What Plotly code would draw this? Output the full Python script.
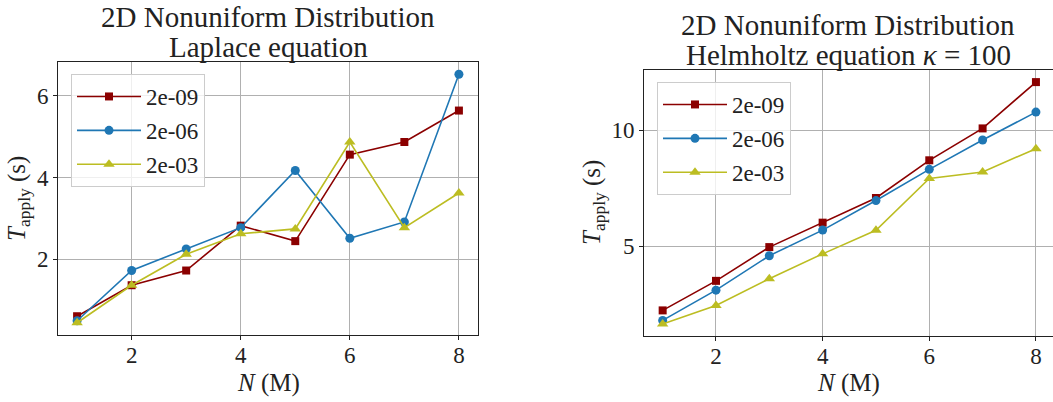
import plotly.graph_objects as go

# Problem sizes N (millions of points)
N = [1, 2, 3, 4, 5, 6, 7, 8]

# Tolerance labels shown in the legends
tolerances = ["2e-09", "2e-06", "2e-03"]

# Laplace equation: apply time (s) per tolerance
laplace_2e09 = [0.60, 1.36, 1.72, 2.82, 2.44, 4.56, 4.87, 5.64]
laplace_2e06 = [0.49, 1.72, 2.25, 2.77, 4.17, 2.51, 2.91, 6.53]
laplace_2e03 = [0.44, 1.36, 2.12, 2.62, 2.74, 4.87, 2.77, 3.62]

# Helmholtz equation (kappa = 100): apply time (s) per tolerance
helm_2e09 = [2.25, 3.52, 4.97, 6.02, 7.08, 8.70, 10.07, 12.06]
helm_2e06 = [1.82, 3.12, 4.60, 5.70, 6.97, 8.31, 9.57, 10.77]
helm_2e03 = [1.67, 2.46, 3.61, 4.68, 5.69, 7.92, 8.20, 9.20]

colors = ["#8b0000", "#1f77b4", "#bcbd22"]
symbols = ["square", "circle", "triangle-up"]
msizes = [8, 9, 10]

W, H = 1053, 402
FONT = "Liberation Serif"


def px_x(p):
    return p / W


def px_y(p):
    return 1 - p / H


fig = go.Figure()

panels = [
    ("x", "y", "legend", [laplace_2e09, laplace_2e06, laplace_2e03]),
    ("x2", "y2", "legend2", [helm_2e09, helm_2e06, helm_2e03]),
]
for pi, (xa, ya, leg, series) in enumerate(panels):
    for si, vals in enumerate(series):
        fig.add_trace(go.Scatter(
            x=N, y=vals, mode="lines+markers", name=tolerances[si],
            xaxis=xa, yaxis=ya, legend=leg,
            legendgroup=f"p{pi}s{si}",
            line=dict(color=colors[si], width=1.6),
            marker=dict(symbol=symbols[si], size=msizes[si], color=colors[si]),
        ))

axis_common = dict(
    showgrid=True, gridcolor="#b0b0b0", gridwidth=0.8,
    showline=True, linecolor="#222222", linewidth=1, mirror=True,
    ticks="outside", ticklen=4, tickcolor="#222222", tickwidth=1,
    tickfont=dict(family=FONT, size=23, color="#222222"),
    zeroline=False,
)

legend_common = dict(
    xanchor="left", yanchor="top",
    bgcolor="rgba(255,255,255,0.8)", bordercolor="#cccccc",
    borderwidth=1, tracegroupgap=1, itemwidth=64,
    font=dict(family=FONT, size=23, color="#222222"),
)

fig.update_layout(
    width=W, height=H,
    margin=dict(l=0, r=0, t=0, b=0),
    plot_bgcolor="white", paper_bgcolor="white",
    xaxis=dict(domain=[px_x(58), px_x(478)], range=[0.65, 8.35],
               tickvals=[2, 4, 6, 8], anchor="y", ticklabelstandoff=-5,
               **axis_common),
    yaxis=dict(domain=[px_y(335), px_y(62)], range=[0.14, 6.83],
               tickvals=[2, 4, 6], anchor="x", **axis_common),
    xaxis2=dict(domain=[px_x(644), 1.0], range=[0.65, 8.32],
                tickvals=[2, 4, 6, 8], anchor="y2", ticklabelstandoff=-5,
                **axis_common),
    yaxis2=dict(domain=[px_y(336), px_y(70)], range=[1.15, 12.58],
                tickvals=[5, 10], anchor="x2", **axis_common),
    legend=dict(x=px_x(71), y=px_y(74), **legend_common),
    legend2=dict(x=px_x(657), y=px_y(82), **legend_common),
    showlegend=True,
)

text_font = dict(family=FONT, size=29, color="#222222")
label_font = dict(family=FONT, size=25, color="#222222")


def note(text, x, y, font, angle=0):
    fig.add_annotation(text=text, x=px_x(x), y=px_y(y), xref="paper", yref="paper",
                       xanchor="center", yanchor="middle", showarrow=False,
                       font=font, textangle=angle)


# Panel titles
note("2D Nonuniform Distribution", 268, 17, text_font)
note("Laplace equation", 268, 47, text_font)
note("2D Nonuniform Distribution", 848, 25, text_font)
note("Helmholtz equation <i>κ</i> = 100", 848, 55, text_font)

# Axis labels
note("<i>N</i> (M)", 268, 383, label_font)
note("<i>N</i> (M)", 848, 383, label_font)
note("<i>T</i><sub>apply</sub> (s)", 18, 199, label_font, -90)
note("<i>T</i><sub>apply</sub> (s)", 593, 203, label_font, -90)

fig.write_html("out.html")
